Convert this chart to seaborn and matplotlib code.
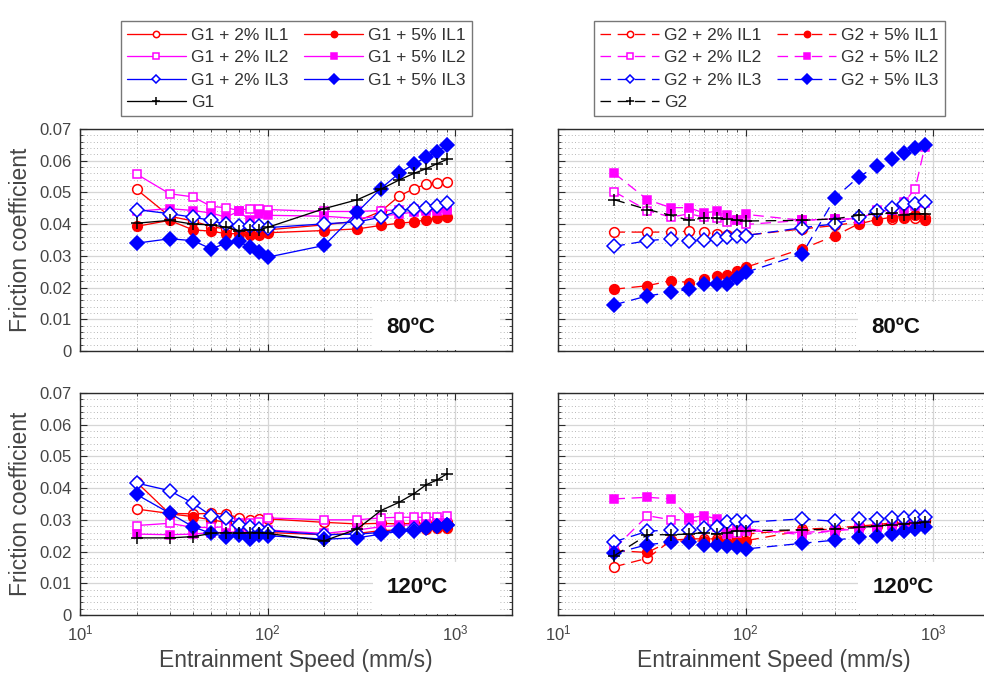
import math
import matplotlib
matplotlib.use("Agg")
import matplotlib.pyplot as plt
import seaborn as sns
from matplotlib.patches import Rectangle
from matplotlib.ticker import FixedLocator, FuncFormatter, LogLocator, MultipleLocator, NullFormatter

# Entrainment speeds (mm/s)
speed = [20, 30, 40, 50, 60, 70, 80, 90, 100, 200, 300, 400, 500, 600, 700, 800, 900]

# Base oil G1, 80 ºC
g1_80_il1_2 = [0.0510, 0.0425, 0.0410, 0.0392, 0.0385, 0.0382, 0.0378, 0.0378, 0.0382, 0.0398, 0.0410, 0.0440, 0.0488, 0.0512, 0.0526, 0.0531, 0.0534]
g1_80_il1_5 = [0.0393, 0.0412, 0.0382, 0.0378, 0.0370, 0.0370, 0.0367, 0.0367, 0.0373, 0.0380, 0.0385, 0.0396, 0.0403, 0.0407, 0.0414, 0.0420, 0.0424]
g1_80_il2_2 = [0.0558, 0.0496, 0.0486, 0.0456, 0.0452, 0.0443, 0.0449, 0.0449, 0.0446, 0.0440, 0.0440, 0.0443, 0.0445, 0.0447, 0.0448, 0.0450, 0.0452]
g1_80_il2_5 = [0.0441, 0.0449, 0.0443, 0.0435, 0.0422, 0.0441, 0.0414, 0.0433, 0.0428, 0.0425, 0.0418, 0.0425, 0.0432, 0.0438, 0.0440, 0.0443, 0.0446]
g1_80_il3_2 = [0.0446, 0.0433, 0.0422, 0.0412, 0.0399, 0.0393, 0.0393, 0.0393, 0.0389, 0.0401, 0.0407, 0.0422, 0.0443, 0.0449, 0.0450, 0.0456, 0.0467]
g1_80_il3_5 = [0.0340, 0.0354, 0.0348, 0.0322, 0.0340, 0.0346, 0.0327, 0.0312, 0.0296, 0.0333, 0.0438, 0.0512, 0.0560, 0.0589, 0.0612, 0.0628, 0.0649]
g1_80_base = [0.0403, 0.0412, 0.0400, 0.0398, 0.0390, 0.0380, 0.0382, 0.0382, 0.0390, 0.0449, 0.0477, 0.0510, 0.0539, 0.0560, 0.0575, 0.0591, 0.0604]

# Base oil G2, 80 ºC
g2_80_il1_2 = [0.0375, 0.0375, 0.0375, 0.0378, 0.0375, 0.0368, 0.0365, 0.0365, 0.0365, 0.0385, 0.0396, 0.0407, 0.0412, 0.0417, 0.0420, 0.0420, 0.0418]
g2_80_il1_5 = [0.0195, 0.0206, 0.0222, 0.0216, 0.0227, 0.0238, 0.0241, 0.0251, 0.0264, 0.0322, 0.0364, 0.0401, 0.0414, 0.0422, 0.0424, 0.0428, 0.0414]
g2_80_il2_2 = [0.0502, 0.0443, 0.0422, 0.0433, 0.0422, 0.0418, 0.0407, 0.0412, 0.0399, 0.0412, 0.0417, 0.0417, 0.0440, 0.0446, 0.0470, 0.0512, 0.0644]
g2_80_il2_5 = [0.0560, 0.0477, 0.0452, 0.0452, 0.0435, 0.0441, 0.0428, 0.0412, 0.0431, 0.0412, 0.0417, 0.0415, 0.0446, 0.0446, 0.0449, 0.0456, 0.0467]
g2_80_il3_2 = [0.0330, 0.0348, 0.0354, 0.0348, 0.0350, 0.0352, 0.0359, 0.0364, 0.0364, 0.0389, 0.0401, 0.0422, 0.0443, 0.0452, 0.0465, 0.0465, 0.0470]
g2_80_il3_5 = [0.0146, 0.0174, 0.0185, 0.0195, 0.0211, 0.0211, 0.0211, 0.0230, 0.0248, 0.0306, 0.0484, 0.0549, 0.0583, 0.0604, 0.0625, 0.0639, 0.0649]
g2_80_base = [0.0477, 0.0446, 0.0428, 0.0412, 0.0420, 0.0418, 0.0415, 0.0412, 0.0410, 0.0412, 0.0417, 0.0428, 0.0432, 0.0435, 0.0430, 0.0433, 0.0433]

# Base oil G1, 120 ºC
g1_120_il1_2 = [0.0334, 0.0320, 0.0319, 0.0320, 0.0319, 0.0306, 0.0300, 0.0303, 0.0303, 0.0292, 0.0287, 0.0289, 0.0287, 0.0289, 0.0289, 0.0292, 0.0292]
g1_120_il1_5 = [0.0419, 0.0319, 0.0310, 0.0300, 0.0292, 0.0276, 0.0271, 0.0266, 0.0260, 0.0253, 0.0257, 0.0266, 0.0268, 0.0271, 0.0271, 0.0274, 0.0274]
g1_120_il2_2 = [0.0282, 0.0289, 0.0276, 0.0276, 0.0278, 0.0289, 0.0289, 0.0292, 0.0306, 0.0300, 0.0300, 0.0306, 0.0308, 0.0308, 0.0308, 0.0308, 0.0313]
g1_120_il2_5 = [0.0255, 0.0253, 0.0255, 0.0260, 0.0260, 0.0263, 0.0266, 0.0268, 0.0268, 0.0257, 0.0268, 0.0278, 0.0282, 0.0285, 0.0287, 0.0289, 0.0289]
g1_120_il3_2 = [0.0416, 0.0392, 0.0352, 0.0313, 0.0306, 0.0285, 0.0276, 0.0271, 0.0266, 0.0253, 0.0255, 0.0260, 0.0268, 0.0271, 0.0276, 0.0282, 0.0285]
g1_120_il3_5 = [0.0380, 0.0321, 0.0278, 0.0257, 0.0247, 0.0253, 0.0239, 0.0253, 0.0250, 0.0239, 0.0243, 0.0255, 0.0264, 0.0266, 0.0274, 0.0282, 0.0285]
g1_120_base = [0.0243, 0.0243, 0.0247, 0.0257, 0.0260, 0.0257, 0.0260, 0.0260, 0.0257, 0.0234, 0.0271, 0.0329, 0.0355, 0.0382, 0.0411, 0.0426, 0.0445]

# Base oil G2, 120 ºC
g2_120_il1_2 = [0.0152, 0.0179, 0.0235, 0.0240, 0.0240, 0.0240, 0.0242, 0.0248, 0.0255, 0.0270, 0.0275, 0.0280, 0.0285, 0.0290, 0.0290, 0.0295, 0.0295]
g2_120_il1_5 = [0.0203, 0.0197, 0.0234, 0.0232, 0.0234, 0.0232, 0.0226, 0.0229, 0.0234, 0.0266, 0.0271, 0.0276, 0.0282, 0.0289, 0.0292, 0.0297, 0.0300]
g2_120_il2_2 = [0.0210, 0.0313, 0.0300, 0.0300, 0.0292, 0.0276, 0.0260, 0.0260, 0.0265, 0.0260, 0.0266, 0.0271, 0.0276, 0.0285, 0.0285, 0.0290, 0.0292]
g2_120_il2_5 = [0.0366, 0.0371, 0.0366, 0.0306, 0.0313, 0.0303, 0.0255, 0.0276, 0.0272, 0.0253, 0.0266, 0.0276, 0.0278, 0.0285, 0.0289, 0.0295, 0.0297]
g2_120_il3_2 = [0.0231, 0.0264, 0.0268, 0.0268, 0.0274, 0.0278, 0.0292, 0.0295, 0.0292, 0.0303, 0.0295, 0.0303, 0.0303, 0.0306, 0.0306, 0.0308, 0.0310]
g2_120_il3_5 = [0.0194, 0.0222, 0.0229, 0.0229, 0.0222, 0.0222, 0.0218, 0.0215, 0.0208, 0.0226, 0.0236, 0.0245, 0.0250, 0.0255, 0.0264, 0.0271, 0.0276]
g2_120_base = [0.0187, 0.0253, 0.0253, 0.0255, 0.0260, 0.0255, 0.0260, 0.0266, 0.0266, 0.0268, 0.0271, 0.0276, 0.0280, 0.0285, 0.0287, 0.0290, 0.0292]

y_ticks = [0, 0.01, 0.02, 0.03, 0.04, 0.05, 0.06, 0.07]
x_ticks = [10, 100, 1000]

series_names = ["+ 2% IL1", "+ 5% IL1", "+ 2% IL2", "+ 5% IL2", "+ 2% IL3", "+ 5% IL3", ""]
series_colors = ["#ff0000", "#ff0000", "#ff00ff", "#ff00ff", "#0000ff", "#0000ff", "#000000"]
series_markers = ["o", "o", "s", "s", "D", "D", "+"]
series_filled = [False, True, False, True, False, True, True]
series_sizes = [7.0, 7.0, 6.3, 6.3, 7.0, 7.5, 9.0]

panels = [
    ("G1", "80ºC", [g1_80_il1_2, g1_80_il1_5, g1_80_il2_2, g1_80_il2_5, g1_80_il3_2, g1_80_il3_5, g1_80_base]),
    ("G2", "80ºC", [g2_80_il1_2, g2_80_il1_5, g2_80_il2_2, g2_80_il2_5, g2_80_il3_2, g2_80_il3_5, g2_80_base]),
    ("G1", "120ºC", [g1_120_il1_2, g1_120_il1_5, g1_120_il2_2, g1_120_il2_5, g1_120_il3_2, g1_120_il3_5, g1_120_base]),
    ("G2", "120ºC", [g2_120_il1_2, g2_120_il1_5, g2_120_il2_2, g2_120_il2_5, g2_120_il3_2, g2_120_il3_5, g2_120_base]),
]

sns.set_style("ticks")
plt.rcParams["font.family"] = ["Liberation Sans", "DejaVu Sans"]
plt.rcParams["mathtext.fontset"] = "custom"
plt.rcParams["mathtext.rm"] = "Liberation Sans"
plt.rcParams["mathtext.it"] = "Liberation Sans:italic"

TXT = "#454545"
AX = "#2b2b2b"

fig = plt.figure(figsize=(9.84, 6.79), dpi=100)
W, H = 0.439, 0.327
rects = [
    (0.0813, 0.483, W, H),
    (0.567, 0.483, W, H),
    (0.0813, 0.0943, W, H),
    (0.567, 0.0943, W, H),
]
# white label box: (rect x0, rect width, rect height, text x, text y)
label_boxes = [
    (0.678, 0.295, 0.215, 0.765, 0.108),
    (0.694, 0.295, 0.215, 0.782, 0.108),
    (0.678, 0.295, 0.235, 0.780, 0.122),
    (0.694, 0.295, 0.235, 0.800, 0.122),
]


def log_label(v, pos):
    return r"$\mathregular{10^{%d}}$" % round(math.log10(v))


dash = (0, (8, 5))
axes = []
for i, (oil, temp, values) in enumerate(panels):
    ax = fig.add_axes(rects[i])
    axes.append(ax)
    ls = "-" if oil == "G1" else dash
    for j in range(len(values)):
        label = f"{oil} {series_names[j]}".strip() if series_names[j] else oil
        c = series_colors[j]
        sns.lineplot(
            x=speed, y=values[j], ax=ax, color=c, linestyle=ls, linewidth=0.95,
            marker=series_markers[j], markersize=series_sizes[j],
            markerfacecolor=c if series_filled[j] else "white",
            markeredgecolor=c, markeredgewidth=1.1, label=label,
            errorbar=None, legend=True,
        )
    ax.set_xscale("log")
    ax.set_xlim(10, 2000)
    ax.set_ylim(0, 0.07)
    ax.xaxis.set_major_locator(FixedLocator(x_ticks))
    ax.xaxis.set_minor_locator(LogLocator(base=10, subs=range(2, 10)))
    ax.xaxis.set_minor_formatter(NullFormatter())
    ax.xaxis.set_major_formatter(FuncFormatter(log_label))
    ax.yaxis.set_major_locator(FixedLocator(y_ticks))
    ax.yaxis.set_minor_locator(MultipleLocator(0.002))
    ax.yaxis.set_major_formatter(FuncFormatter(lambda v, p: "0" if v == 0 else f"{v:.2f}"))
    ax.set_axisbelow(True)
    ax.grid(which="major", color="#d6d6d6", linewidth=0.9, linestyle="-")
    ax.grid(which="minor", color="#a0a0a0", linewidth=0.6, linestyle=(0, (1, 3)))
    ax.tick_params(which="both", direction="in", top=True, right=True, color=AX,
                   labelcolor=TXT, labelsize=12, pad=6)
    ax.tick_params(which="major", length=5, width=0.8)
    ax.tick_params(which="minor", length=2.5, width=0.6)
    for s in ax.spines.values():
        s.set_color(AX)
        s.set_linewidth(1.0)
    ax.set_xlabel("")
    ax.set_ylabel("")
    if i < 2:
        ax.tick_params(labelbottom=False)
    else:
        ax.set_xlabel("Entrainment Speed (mm/s)", fontsize=16.5, color=TXT, labelpad=4)
    if i % 2 == 1:
        ax.tick_params(labelleft=False)
    else:
        ax.set_ylabel("Friction coefficient", fontsize=16.5, color=TXT, labelpad=5)

    bx0, bw, bh, tx, ty = label_boxes[i]
    ax.add_patch(Rectangle((bx0, 0.004), bw, bh, transform=ax.transAxes,
                           facecolor="white", edgecolor="none", zorder=1.5))
    ax.text(tx, ty, temp, transform=ax.transAxes, ha="center", va="center",
            fontsize=16, fontweight="bold", color="#111111", zorder=5)

# Legends above each column, entries laid out row by row
order = [0, 2, 4, 6, 1, 3, 5]
for ax, cx in [(axes[0], 0.3013), (axes[1], 0.782)]:
    handles, labels = ax.get_legend_handles_labels()
    ax.get_legend().remove()
    leg = fig.legend([handles[k] for k in order], [labels[k] for k in order],
                     loc="lower center", bbox_to_anchor=(cx, 0.829), ncol=2,
                     fontsize=12.5, frameon=True, fancybox=False, edgecolor="#555555",
                     handlelength=3.4, handletextpad=0.3, columnspacing=0.9,
                     labelspacing=0.42, borderpad=0.35, markerscale=0.65,
                     borderaxespad=0)
    leg.get_frame().set_linewidth(1.0)
    for t in leg.get_texts():
        t.set_color("#333333")
for ax in (axes[2], axes[3]):
    if ax.get_legend() is not None:
        ax.get_legend().remove()

fig.savefig("out.png", dpi=100)
